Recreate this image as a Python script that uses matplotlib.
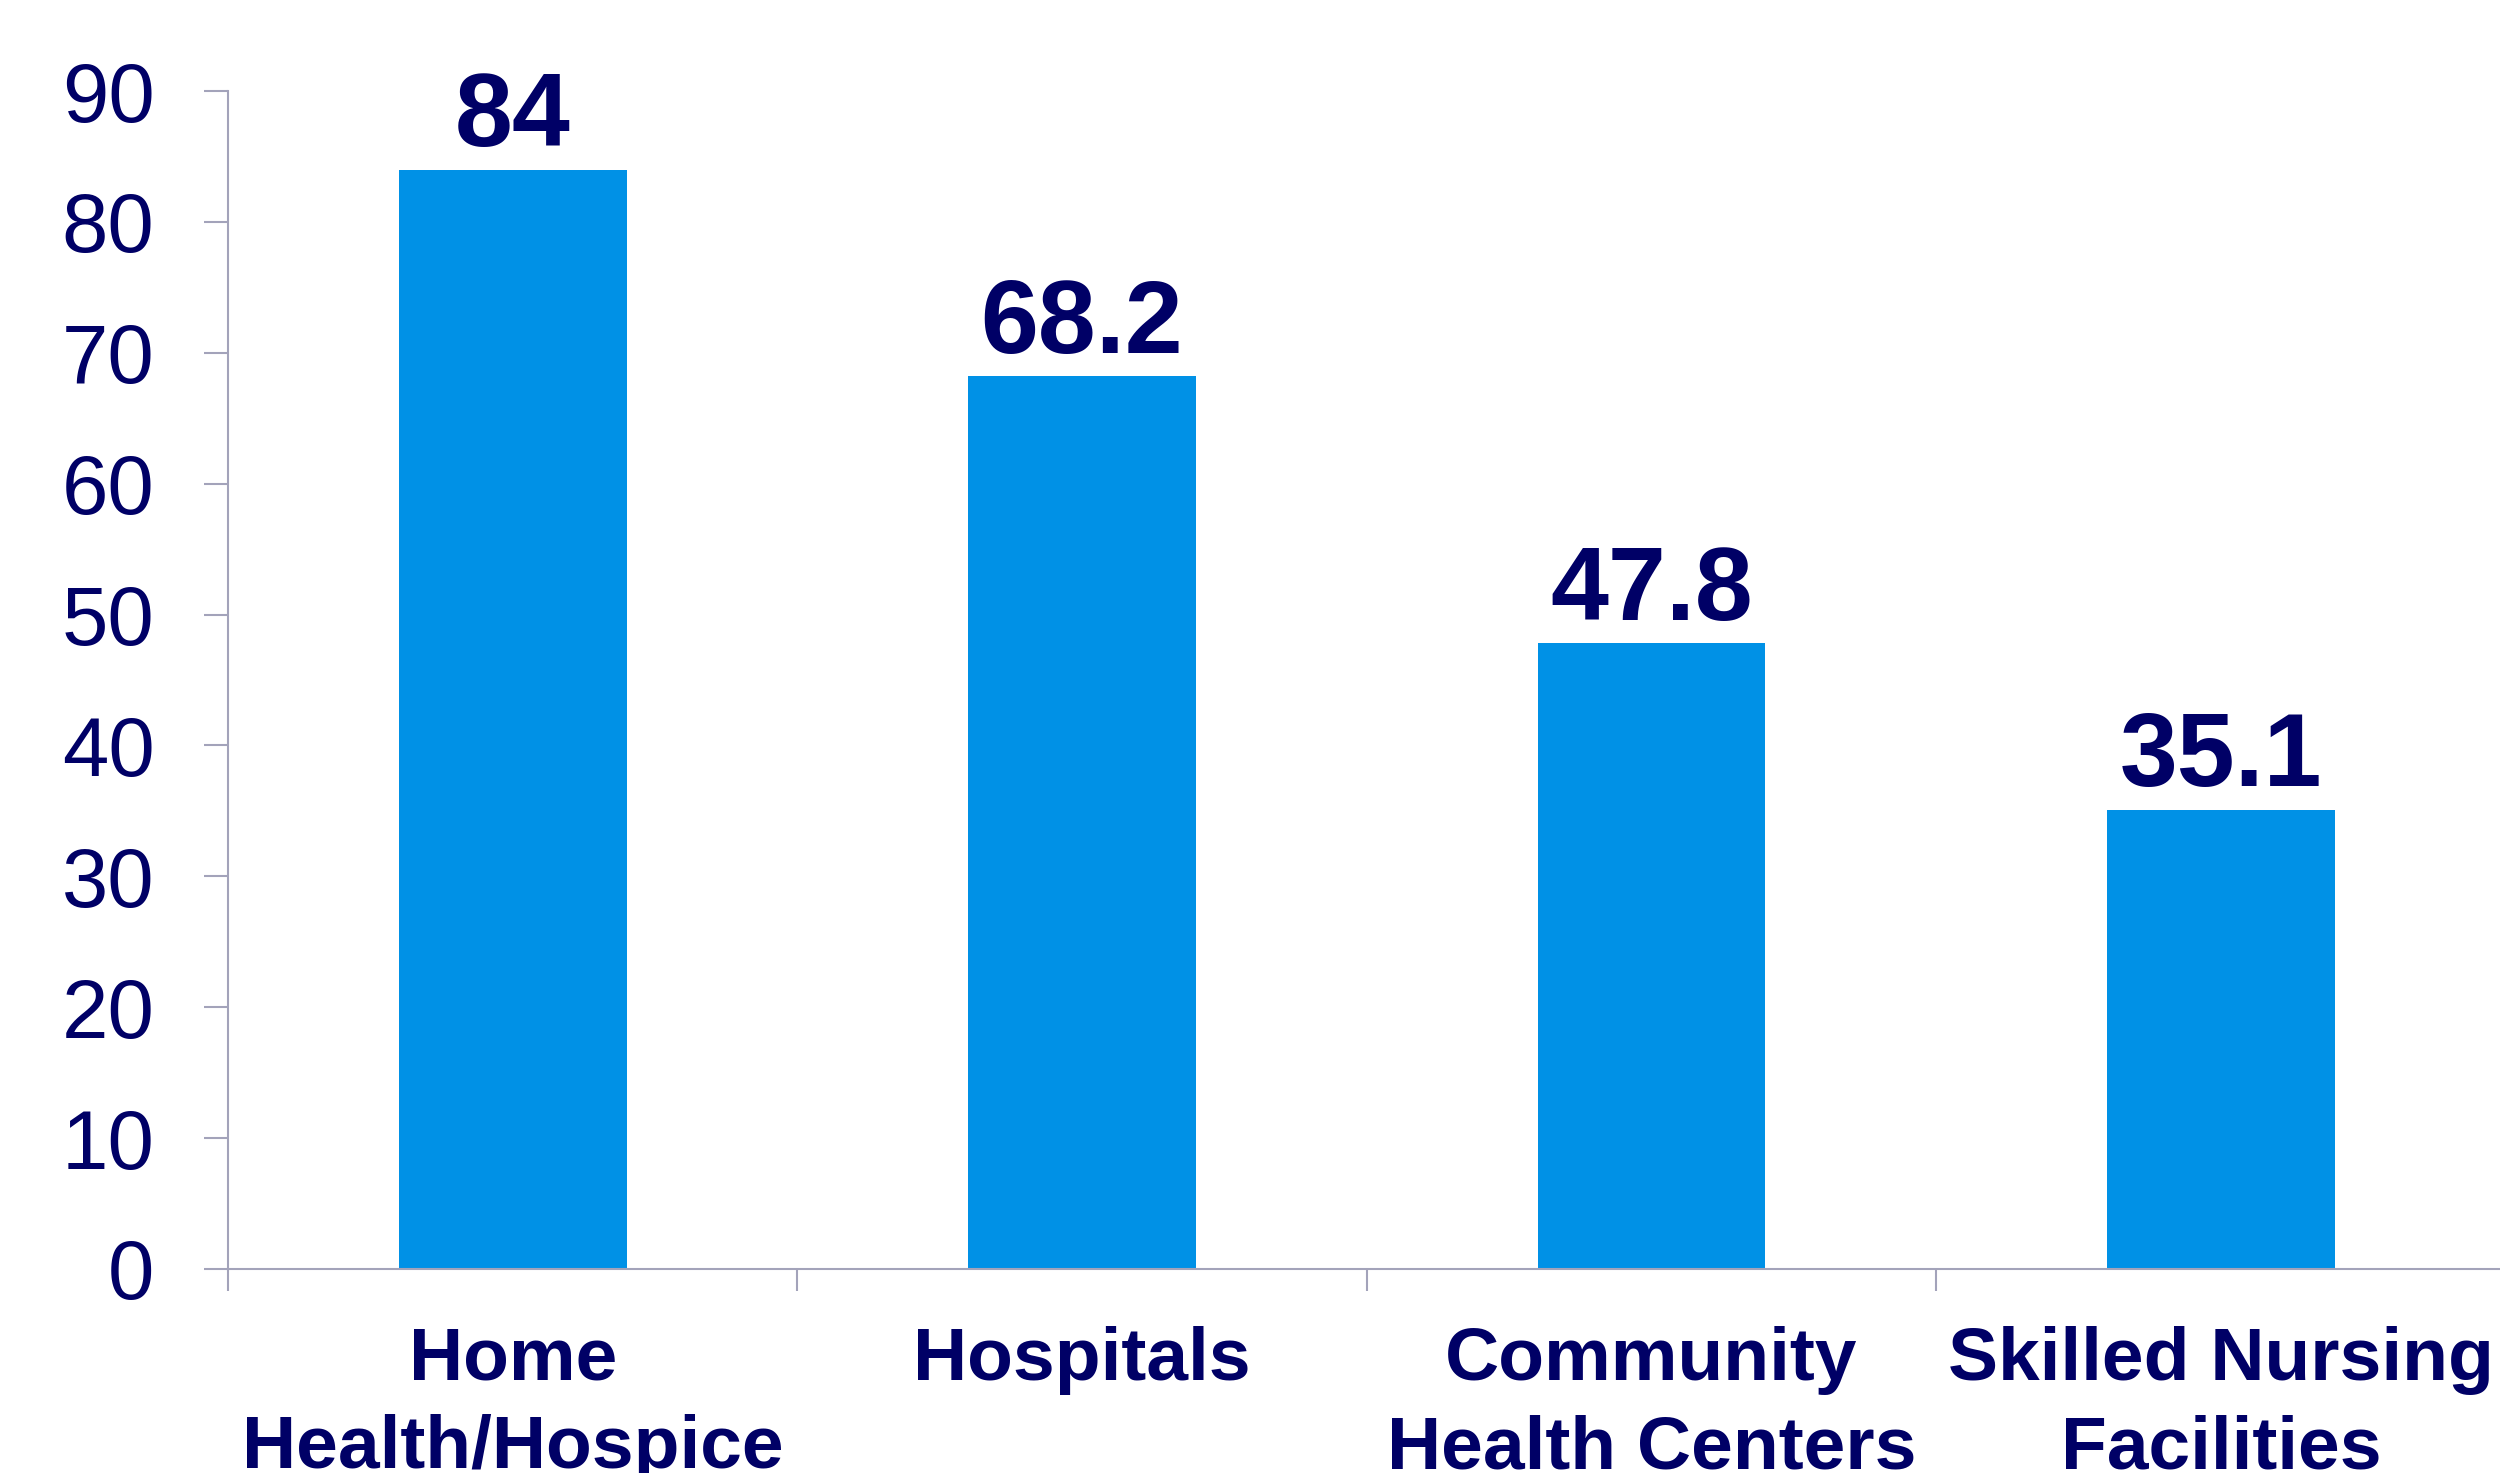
import matplotlib
matplotlib.use('Agg')
import matplotlib.pyplot as plt
import numpy as np

categories = ['Home\nHealth/Hospice', 'Hospitals',
              'Community\nHealth Centers', 'Skilled Nursing\nFacilities']
values = [84, 68.2, 47.8, 35.1]
value_labels = ['84', '68.2', '47.8', '35.1']
yticks = [0, 10, 20, 30, 40, 50, 60, 70, 80, 90]

navy = '#000066'
bar_color = '#0091E6'
axis_color = '#A3A3BA'

plt.rcParams['font.family'] = ['Liberation Sans', 'DejaVu Sans']

fig = plt.figure(figsize=(25, 14.73), dpi=100)
ax = fig.add_axes([0.0912, 0.1385, 0.911, 0.7997])

x = np.arange(len(categories))
ax.bar(x, values, width=0.4, color=bar_color, zorder=2)

for xi, v, lab in zip(x, values, value_labels):
    ax.annotate(lab, (xi, v), xytext=(0, 17), textcoords='offset points',
                ha='center', va='baseline', fontsize=75, fontweight='bold',
                color=navy)

ax.set_xlim(-0.5, len(categories) - 0.5)
ax.set_ylim(0, 90)
ax.set_yticks(yticks)
ax.set_yticklabels([str(t) for t in yticks])
ax.set_xticks(x)
ax.set_xticklabels(categories, fontsize=54, fontweight='bold', color=navy,
                   linespacing=1.36)
ax.set_xticks(np.arange(-0.5, len(categories)), minor=True)

for side in ['top', 'right']:
    ax.spines[side].set_visible(False)
for side in ['left', 'bottom']:
    ax.spines[side].set_color(axis_color)
    ax.spines[side].set_linewidth(1.5)

ax.tick_params(axis='y', length=17, width=1.5, color=axis_color,
               labelsize=60, labelcolor=navy, pad=36)
ax.tick_params(axis='x', which='major', length=0, pad=41)
ax.tick_params(axis='x', which='minor', length=16, width=1.5,
               color=axis_color)

fig.savefig('out.png', dpi=100)
